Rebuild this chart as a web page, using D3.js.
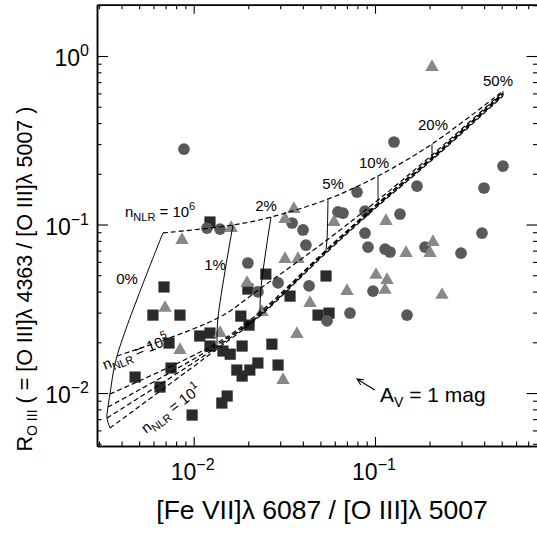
<!DOCTYPE html>
<html><head><meta charset="utf-8">
<script src="https://cdn.jsdelivr.net/npm/d3@7"></script>
<style>
body{margin:0;background:#fff}
svg{display:block}
text{font-family:"Liberation Sans",Arial,Helvetica,sans-serif;fill:#000}
</style>
</head><body>
<svg id="c" width="537" height="533"></svg>
<script>
// ---------- data ----------
const squareX = [0.0123,0.00686,0.00596,0.0084,0.00731,0.00475,0.0075,0.00652,0.0098,0.0153,0.0143,0.0108,0.0123,0.0123,0.0159,0.0185,0.0173,0.0185,0.0204,0.0226,0.0182,0.0202,0.0199,0.0250,0.0270,0.0292,0.0340,0.0537,0.0485,0.0558,0.0145];
const squareY = [0.1035,0.0426,0.0290,0.0290,0.0198,0.01244,0.01407,0.01085,0.0074,0.0096,0.00872,0.0218,0.0227,0.0190,0.0170,0.0190,0.01369,0.01261,0.01369,0.01507,0.0286,0.0253,0.0414,0.0508,0.0195,0.01466,0.0376,0.0495,0.0290,0.0298,0.01775];

const circleX = [0.00884,0.01184,0.01397,0.0199,0.0292,0.0226,0.0349,0.0401,0.0416,0.0433,0.0625,0.0666,0.0796,0.0881,0.0881,0.0915,0.1136,0.1210,0.1374,0.1273,0.1705,0.1888,0.2981,0.3892,0.3992,0.508,0.0728,0.1502,0.0544,0.0975];
const circleY = [0.2805,0.0953,0.0940,0.0591,0.0450,0.0398,0.1021,0.0928,0.0755,0.0432,0.1187,0.1170,0.1559,0.1202,0.0890,0.0735,0.0715,0.0687,0.1154,0.3088,0.1692,0.0735,0.0677,0.0890,0.1647,0.2224,0.0298,0.0290,0.0268,0.0403];

const triangleX = [0.2063,0.0357,0.0319,0.0594,0.1150,0.0319,0.0376,0.1483,0.2089,0.2011,0.1013,0.1165,0.1136,0.0701,0.2342,0.0438,0.0371,0.0311,0.00862,0.0161,0.00695,0.0084,0.01397,0.0197,0.0238];
const triangleY = [0.860,0.1236,0.1078,0.1035,0.1049,0.0624,0.0624,0.0677,0.0787,0.0677,0.0502,0.0468,0.0409,0.0403,0.0382,0.0342,0.0224,0.01194,0.0809,0.0953,0.0320,0.0180,0.0227,0.0450,0.03025];

// model grid: one row per density (exponent), one column per percentage
const densityExp = ["6","5","4","3","2","1"];
const percents = [0,1,2,5,10,20,50];
const gridX = [
  [0.00677,0.01647,0.02669,0.05505,0.1039,0.2063,0.508],
  [0.003776,0.01361,0.0235,0.05435,0.1039,0.2063,0.508],
  [0.003453,0.01344,0.02321,0.05366,0.1039,0.2063,0.508],
  [0.003368,0.01344,0.02321,0.05366,0.1039,0.2063,0.508],
  [0.003325,0.01344,0.02321,0.05366,0.1039,0.2063,0.508],
  [0.003453,0.01344,0.02321,0.05366,0.1039,0.2063,0.508]
];
const gridY = [
  [0.0891,0.0993,0.1108,0.1416,0.1940,0.3004,0.6198],
  [0.01658,0.02787,0.04199,0.0809,0.1397,0.2585,0.6114],
  [0.009863,0.0198,0.03025,0.07059,0.1341,0.2516,0.6033],
  [0.008258,0.01927,0.02943,0.06962,0.1323,0.2481,0.5951],
  [0.007106,0.01875,0.02904,0.06866,0.1305,0.2447,0.5869],
  [0.006199,0.01825,0.02864,0.0677,0.1288,0.2414,0.5789]
];

const xMajor = [0.01, 0.1];
const xMajorLabels = ["−2","−1"];
const yMajor = [0.01, 0.1, 1];
const yMajorLabels = ["−2","−1","0"];

// ---------- layout ----------
const svg = d3.select("#c");
const L = 97, R = 537.5, T = 4.7, B = 446;
const x = d3.scaleLog().domain([0.002929, 0.7876]).range([L, R]);
const y = d3.scaleLog().domain([0.004849, 2.016]).range([B, T]);

function minorTicks(dom){
  const out=[];
  for(let e=-4;e<=1;e++) for(let k=2;k<=9;k++){const v=k*Math.pow(10,e); if(v>dom[0]&&v<dom[1]) out.push(v);}
  return out;
}
const xMinor = minorTicks(x.domain()), yMinor = minorTicks(y.domain());

const axG = svg.append("g");
function addAxis(gen, transform, vals, size){
  const g = axG.append("g").attr("transform", transform)
    .call(gen.tickValues(vals).tickSize(size).tickSizeOuter(0).tickFormat(""));
  g.selectAll("path.domain").attr("stroke","#000").attr("stroke-width",1.5);
  g.selectAll(".tick line").attr("stroke","#000").attr("stroke-width",1.1);
  return g;
}
addAxis(d3.axisBottom(x), `translate(0,${B})`, xMinor, -4.5);
addAxis(d3.axisBottom(x), `translate(0,${B})`, xMajor, -9);
addAxis(d3.axisTop(x), `translate(0,${T})`, xMinor, -4.5);
addAxis(d3.axisTop(x), `translate(0,${T})`, xMajor, -9);
addAxis(d3.axisLeft(y), `translate(${L},0)`, yMinor, -4.5);
addAxis(d3.axisLeft(y), `translate(${L},0)`, yMajor, -11);
addAxis(d3.axisRight(y), `translate(${R},0)`, yMinor, -4.5);
addAxis(d3.axisRight(y), `translate(${R},0)`, yMajor, -11);

// tick labels
const tickFont = 23, supFont = 16;
xMajor.forEach((v,i)=>{
  const t = svg.append("text").attr("x", x(v)-1).attr("y", B+34)
    .attr("text-anchor","middle").attr("font-size",tickFont);
  t.append("tspan").text("10");
  t.append("tspan").attr("dy",-10).attr("font-size",supFont).text(xMajorLabels[i]);
});
yMajor.forEach((v,i)=>{
  const t = svg.append("text").attr("x", L-8).attr("y", y(v)+10)
    .attr("text-anchor","end").attr("font-size",tickFont);
  t.append("tspan").text("10");
  t.append("tspan").attr("dy",-10).attr("font-size",supFont).text(yMajorLabels[i]);
});

// axis titles
svg.append("text").attr("x", 322).attr("y", 519).attr("text-anchor","middle").attr("font-size",26.5)
  .text("[Fe VII]λ 6087 / [O III]λ 5007");
const yt = svg.append("text").attr("transform","translate(32,279) rotate(-90)").attr("text-anchor","middle").attr("font-size",21.5);
yt.append("tspan").text("R");
yt.append("tspan").attr("dy",5).attr("font-size",14).text("O III");
yt.append("tspan").attr("dy",-5).text(" ( = [O III]λ 4363 / [O III]λ 5007 )");

// ---------- points ----------
const pts = svg.append("g");
const sq = squareX.map((v,i)=>[v,squareY[i]]);
const ci = circleX.map((v,i)=>[v,circleY[i]]);
const tr = triangleX.map((v,i)=>[v,triangleY[i]]);
pts.selectAll(".sq").data(sq).join("path").attr("class","sq")
  .attr("d", d3.symbol().type(d3.symbolSquare).size(125))
  .attr("transform", d=>`translate(${x(d[0])},${y(d[1])})`).attr("fill","#2a2a2a");
pts.selectAll(".ci").data(ci).join("path").attr("class","ci")
  .attr("d", d3.symbol().type(d3.symbolCircle).size(108))
  .attr("transform", d=>`translate(${x(d[0])},${y(d[1])})`).attr("fill","#595959");
pts.selectAll(".tr").data(tr).join("path").attr("class","tr")
  .attr("d", d3.symbol().type(d3.symbolTriangle).size(78))
  .attr("transform", d=>`translate(${x(d[0])},${y(d[1])})`).attr("fill","#888888");

// ---------- model grid ----------
const line = d3.line().x(d=>x(d[0])).y(d=>y(d[1])).curve(d3.curveCatmullRom.alpha(0.5));
const grid = svg.append("g").attr("fill","none").attr("stroke","#000");
densityExp.forEach((e,i)=>{
  grid.append("path").attr("d", line(gridX[i].map((v,j)=>[v,gridY[i][j]])))
    .attr("stroke-width",1.2).attr("stroke-dasharray","5,3");
});
percents.forEach((p,j)=>{
  grid.append("path").attr("d", line(gridX.map((row,i)=>[row[j],gridY[i][j]])))
    .attr("stroke-width",1);
});

// percentage labels (offset from the top-density point)
const pctOff = [[-36,51],[-18,45],[-5,-6],[5,-10],[-4,-8],[1,-14],[-5,-5]];
percents.forEach((p,j)=>{
  svg.append("text").attr("x", x(gridX[0][j])+pctOff[j][0]).attr("y", y(gridY[0][j])+pctOff[j][1])
    .attr("text-anchor","middle").attr("font-size",15).text(p+"%");
});

// density labels
function nLabel(g, exp){
  const t = g.append("text").attr("font-size",15);
  t.append("tspan").text("n");
  t.append("tspan").attr("dy",4).attr("font-size",11).text("NLR");
  t.append("tspan").attr("dy",-4).text(" = 10");
  t.append("tspan").attr("dy",-7).attr("font-size",11).text(exp);
  return t;
}
nLabel(svg.append("g").attr("transform",`translate(${x(gridX[0][0])-38},${y(gridY[0][0])-16})`), densityExp[0]);
nLabel(svg.append("g").attr("transform",`translate(${x(gridX[1][0])-12},${y(gridY[1][0])+14}) rotate(-22)`), densityExp[1]);
nLabel(svg.append("g").attr("transform",`translate(${x(gridX[5][0])+36},${y(gridY[5][0])+6}) rotate(-37)`), densityExp[5]);

// extinction arrow
const arrowTail = [0.0997, 0.01042], arrowHead = [0.0796, 0.01211];
const hx = x(arrowHead[0]), hy = y(arrowHead[1]), tx = x(arrowTail[0]), ty = y(arrowTail[1]);
const ang = Math.atan2(ty-hy, tx-hx);
svg.append("path").attr("fill","none").attr("stroke","#000").attr("stroke-width",1.1)
  .attr("d", `M${tx},${ty}L${hx},${hy}M${hx+7*Math.cos(ang-0.45)},${hy+7*Math.sin(ang-0.45)}L${hx},${hy}L${hx+7*Math.cos(ang+0.45)},${hy+7*Math.sin(ang+0.45)}`);
const av = svg.append("text").attr("x", x(0.1066)).attr("y", y(0.00884)).attr("font-size",21);
av.append("tspan").text("A");
av.append("tspan").attr("dy",5).attr("font-size",14).text("V");
av.append("tspan").attr("dy",-5).text(" = 1 mag");
</script>
</body></html>
